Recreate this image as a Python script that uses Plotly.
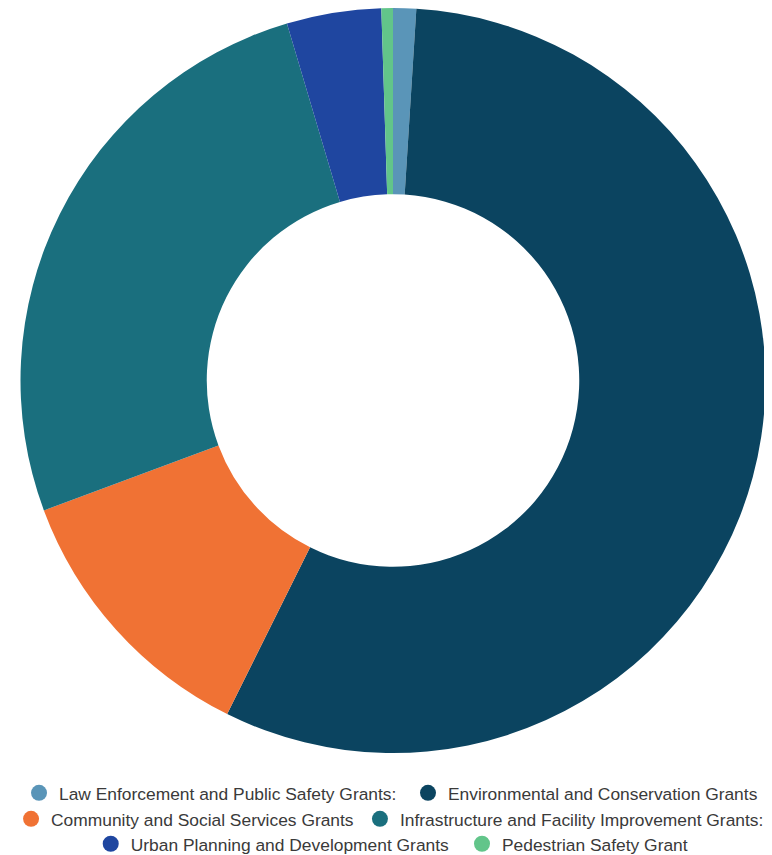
import plotly.graph_objects as go

categories = [
    "Law Enforcement and Public Safety Grants:",
    "Environmental and Conservation Grants",
    "Community and Social Services Grants",
    "Infrastructure and Facility Improvement Grants:",
    "Urban Planning and Development Grants",
    "Pedestrian Safety Grant",
]
values = [1.0, 56.4, 12.0, 26.1, 4.1, 0.5]
colors = ["#5a95b8", "#0b4460", "#f07234", "#1a6f7e", "#1f46a0", "#62c58a"]

# legend placement (paper coords), one legend per entry to mimic centred rows
legend_x = [-0.0013, 0.5201, -0.0120, 0.4557, 0.0948, 0.5925]
legend_y = [-0.0537, -0.0537, -0.0886, -0.0886, -0.1221, -0.1221]
legend_ids = ["legend", "legend2", "legend3", "legend4", "legend5", "legend6"]

fig = go.Figure()
fig.add_trace(go.Pie(
    labels=categories,
    values=values,
    marker=dict(colors=colors, line=dict(width=0)),
    hole=0.5,
    sort=False,
    direction="clockwise",
    rotation=0,
    textinfo="none",
    hoverinfo="label+value",
    showlegend=False,
))

for name, col, lg in zip(categories, colors, legend_ids):
    fig.add_trace(go.Scatter(
        x=[None], y=[None], mode="markers", name=name,
        marker=dict(symbol="circle", size=17, color=col),
        legend=lg, showlegend=True,
    ))

leg_font = dict(family="Liberation Sans, Arial, sans-serif", size=17.4, color="#3a3a3a")
legends = {}
for lg, lx, ly in zip(legend_ids, legend_x, legend_y):
    legends[lg] = dict(orientation="h", xanchor="left", x=lx, yanchor="middle", y=ly,
                       font=leg_font, bgcolor="rgba(0,0,0,0)",
                       itemclick=False, itemdoubleclick=False)

fig.update_layout(
    width=772, height=847,
    margin=dict(l=12, r=14, t=0, b=102, autoexpand=False),
    paper_bgcolor="white", plot_bgcolor="white",
    xaxis=dict(visible=False), yaxis=dict(visible=False),
    **legends,
)

fig.write_html("out.html")
